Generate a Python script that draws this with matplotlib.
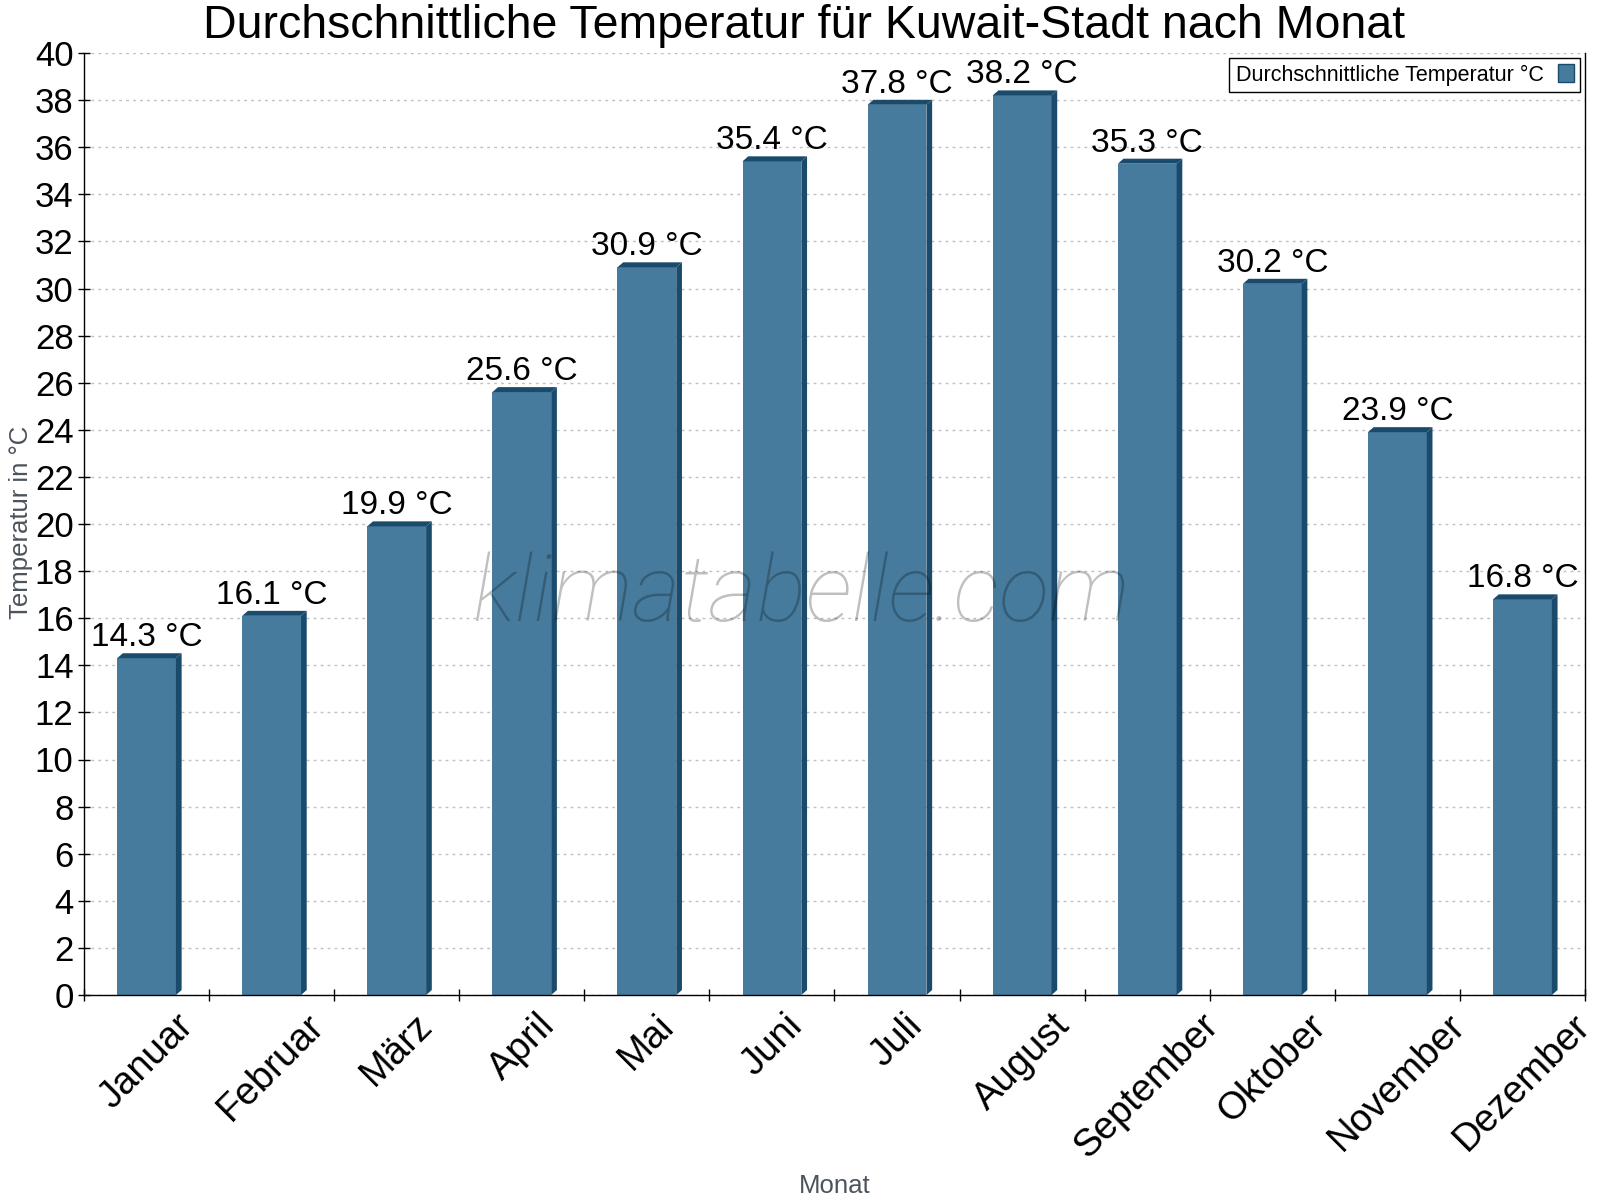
import matplotlib
matplotlib.use("Agg")
import matplotlib.pyplot as plt
from matplotlib.patches import Polygon, Patch
import numpy as np

months = ["Januar", "Februar", "März", "April", "Mai", "Juni", "Juli",
          "August", "September", "Oktober", "November", "Dezember"]
temps = [14.3, 16.1, 19.9, 25.6, 30.9, 35.4, 37.8, 38.2, 35.3, 30.2, 23.9, 16.8]
y_ticks = list(range(0, 41, 2))

title = "Durchschnittliche Temperatur für Kuwait-Stadt nach Monat"
series_name = "Durchschnittliche Temperatur °C"
y_label = "Temperatur in °C"
x_label = "Monat"
watermark = "klimatabelle.com"

FRONT = "#467b9d"
DARK = "#1b4b6c"
GREY_LABEL = "#4b535c"

plt.rcParams["font.family"] = ["Liberation Sans", "DejaVu Sans"]

W, H, DPI = 16, 12, 100
fig = plt.figure(figsize=(W, H), dpi=DPI)
ax_left, ax_right, ax_top, ax_bottom = 84, 1585, 53, 995
ax = fig.add_axes([ax_left / 1600, 1 - ax_bottom / 1200,
                   (ax_right - ax_left) / 1600, (ax_bottom - ax_top) / 1200])

n = len(months)
x = np.arange(n)
ax.set_xlim(-0.5, n - 0.5)
ax.set_ylim(0, 40)

bar_w = 0.47
ax.bar(x, temps, width=bar_w, color=FRONT, zorder=2, linewidth=0)

# 3D side/top faces
px_per_x = (ax_right - ax_left) / n
px_per_y = (ax_bottom - ax_top) / 40
dx = 5.7 / px_per_x
dy = 5.0 / px_per_y
for xi, v in zip(x, temps):
    x0 = xi - bar_w / 2
    x1 = xi + bar_w / 2
    side = Polygon([(x1, 0), (x1 + dx, dy), (x1 + dx, v + dy), (x1, v)],
                   closed=True, facecolor=DARK, edgecolor="none", zorder=2)
    top = Polygon([(x0, v), (x0 + dx, v + dy), (x1 + dx, v + dy), (x1, v)],
                  closed=True, facecolor=DARK, edgecolor="none", zorder=2)
    ax.add_patch(side)
    ax.add_patch(top)
    ax.annotate(f"{v} °C", (xi, v + dy), xytext=(0, 0), textcoords="offset points",
                ha="center", va="bottom", fontsize=24, color="black", zorder=4)

# grid
ax.set_yticks(y_ticks)
ax.yaxis.grid(True, color="#c0c0c0", linestyle=(0, (2, 3)), linewidth=1, zorder=0)
ax.set_axisbelow(True)

ax.tick_params(axis="y", direction="inout", length=9, width=1, labelsize=25, pad=3)
ax.set_xticks(x)
ax.set_xticklabels(months, rotation=45, ha="center", va="top", fontsize=27.5)
ax.tick_params(axis="x", which="major", length=0, pad=9)
ax.set_xticks(np.arange(-0.5, n, 1.0), minor=True)
ax.tick_params(axis="x", which="minor", direction="inout", length=9, width=1)

ax.spines["top"].set_visible(False)
for s in ["left", "bottom", "right"]:
    ax.spines[s].set_color("black")
    ax.spines[s].set_linewidth(1)

# watermark
fig.text(801 / 1600, 1 - 596 / 1200, watermark,
         ha="center", va="center", fontsize=67, family=["Roboto", "DejaVu Sans"],
         fontweight="light", style="italic", color="black", alpha=0.25, zorder=3)

# legend
handle = Patch(facecolor=FRONT, edgecolor=DARK, linewidth=1)
leg = ax.legend([handle], [series_name], loc="upper right",
                bbox_to_anchor=(1580 / 1600, 1 - 58 / 1200), bbox_transform=fig.transFigure,
                borderaxespad=0, fontsize=15.5, markerfirst=False, fancybox=False,
                framealpha=1, edgecolor="black", borderpad=0.3, handlelength=0.7,
                handleheight=0.9, handletextpad=0.7)
leg.get_frame().set_linewidth(1)
leg.set_zorder(5)

fig.text(804 / 1600, 1 - 38 / 1200, title, ha="center", va="baseline", fontsize=33.5, color="black")
fig.text(21 / 1600, 1 - 522 / 1200, y_label, ha="center", va="center", rotation=90,
         fontsize=18.5, color=GREY_LABEL)
fig.text(835 / 1600, 1 - 1193 / 1200, x_label, ha="center", va="baseline",
         fontsize=18.5, color=GREY_LABEL)

fig.savefig("out.png", dpi=DPI)
